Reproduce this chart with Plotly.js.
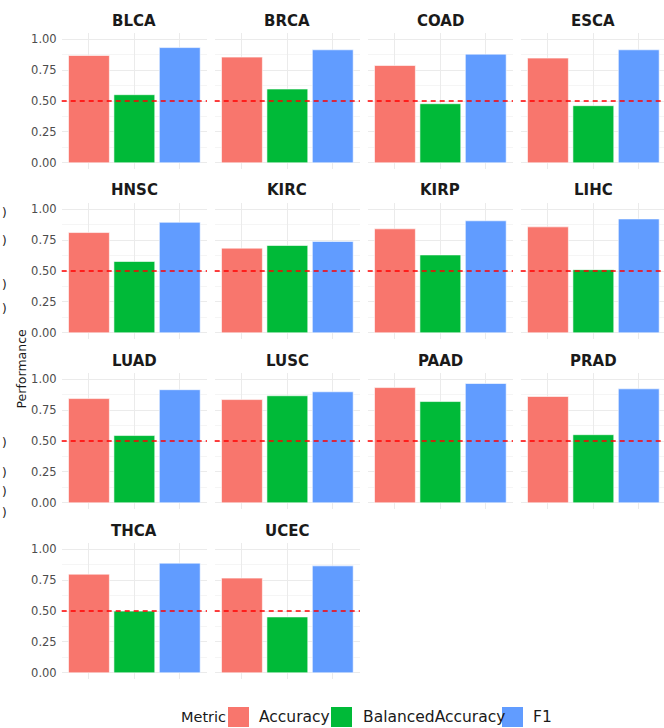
<!DOCTYPE html>
<html>
<head>
<meta charset="utf-8">
<script src="https://cdn.plot.ly/plotly-3.0.1.min.js"></script>
<style>html,body{margin:0;padding:0;background:#fff;}#chart{width:664px;height:728px;}</style>
</head>
<body>
<div id="chart"></div>
<script>
// ---- data ----
const cancers = ['BLCA','BRCA','COAD','ESCA','HNSC','KIRC','KIRP','LIHC','LUAD','LUSC','PAAD','PRAD','THCA','UCEC'];
const metrics = ['Accuracy','BalancedAccuracy','F1'];
const accuracy         = [0.868,0.855,0.787,0.847,0.811,0.685,0.841,0.857,0.843,0.835,0.932,0.860,0.798,0.766];
const balancedAccuracy = [0.551,0.597,0.478,0.462,0.577,0.706,0.630,0.511,0.544,0.866,0.819,0.551,0.499,0.452];
const f1               = [0.932,0.914,0.879,0.914,0.894,0.739,0.906,0.921,0.915,0.898,0.965,0.922,0.887,0.865];
const yTickVals = [0, 0.25, 0.5, 0.75, 1];
const yTickText = ['0.00','0.25','0.50','0.75','1.00'];
const threshold = 0.5;
const metricColors = ['#F8766D','#00BA38','#619CFF'];

// ---- layout constants ----
const W = 664, H = 728;
const FONT = 'DejaVu Sans, Liberation Sans, sans-serif';
const colL = [61.7, 214.7, 367.7, 520.7];
const panelW = 145.3;
const rowT = [33, 203, 373, 543];
const panelH = 136;
const px = x => x / W;
const py = y => 1 - y / H;

const traces = [];
const layout = {
  width: W, height: H,
  margin: {l: 0, r: 0, t: 0, b: 0},
  paper_bgcolor: '#ffffff', plot_bgcolor: '#ffffff',
  showlegend: false,
  font: {family: FONT},
  shapes: [], annotations: []
};

cancers.forEach((name, i) => {
  const r = Math.floor(i / 4), c = i % 4, k = i + 1;
  const sfx = k === 1 ? '' : String(k);
  const x0 = colL[c], x1 = Math.min(x0 + panelW, W);
  const xr = 3.2 * (x1 - x0) / panelW;
  traces.push({
    type: 'bar', x: metrics,
    y: [accuracy[i], balancedAccuracy[i], f1[i]],
    xaxis: 'x' + sfx, yaxis: 'y' + sfx,
    width: 0.9,
    marker: {color: metricColors, line: {color: '#ffffff', width: 0.6}},
    hoverinfo: 'skip', showlegend: false
  });
  layout['xaxis' + sfx] = {
    domain: [px(x0), px(x1)], anchor: 'y' + sfx,
    type: 'category', categoryorder: 'array', categoryarray: metrics,
    range: [-0.6, -0.6 + xr],
    showticklabels: false, ticks: '',
    showgrid: true, gridcolor: '#EBEBEB', gridwidth: 1,
    zeroline: false, showline: false, fixedrange: true
  };
  layout['yaxis' + sfx] = {
    domain: [py(rowT[r] + panelH), py(rowT[r])], anchor: 'x' + sfx,
    range: [-0.05, 1.05],
    tickvals: yTickVals, ticktext: yTickText,
    showticklabels: c === 0, ticks: '', ticklabelstandoff: 4,
    tickfont: {size: 11.5, color: '#4D4D4D', family: FONT},
    showgrid: true, gridcolor: '#EBEBEB', gridwidth: 1,
    minor: {tick0: 0, dtick: 0.125, showgrid: true, gridcolor: '#EFEFEF', gridwidth: 0.6},
    zeroline: false, showline: false, fixedrange: true
  };
  layout.shapes.push({
    type: 'line', xref: 'x' + sfx + ' domain', yref: 'y' + sfx,
    x0: 0, x1: 1, y0: threshold, y1: threshold,
    line: {color: '#FF0000', width: 1.6, dash: '5px,4px'}, layer: 'above'
  });
  layout.annotations.push({
    text: '<b>' + name + '</b>', xref: 'paper', yref: 'paper',
    x: px((x0 + colL[c] + panelW) / 2), y: py(20.5 + 170 * r),
    xanchor: 'center', yanchor: 'middle', showarrow: false,
    font: {size: 15, color: '#1A1A1A', family: FONT}
  });
});

// y axis title
layout.annotations.push({
  text: 'Performance', xref: 'paper', yref: 'paper',
  x: px(20.5), y: py(369), textangle: -90,
  xanchor: 'center', yanchor: 'middle', showarrow: false,
  font: {size: 12.5, color: '#1A1A1A', family: FONT}
});

// text remnants at the left edge
[213, 241, 285, 309, 443, 473, 492, 513].forEach(y => {
  layout.annotations.push({
    text: ')', xref: 'paper', yref: 'paper', x: px(1), y: py(y),
    xanchor: 'left', yanchor: 'middle', showarrow: false, borderpad: 0,
    font: {size: 12, color: '#1A1A1A', family: FONT}
  });
});

// legend (drawn manually)
const legY = 717;
layout.annotations.push({
  text: 'Metric', xref: 'paper', yref: 'paper', x: px(179), y: py(legY),
  xanchor: 'left', yanchor: 'middle', showarrow: false,
  font: {size: 14.5, color: '#1A1A1A', family: FONT}
});
const keyX = [228, 331, 502];
const labX = [257, 361, 531];
metrics.forEach((m, j) => {
  layout.shapes.push({
    type: 'rect', xref: 'paper', yref: 'paper',
    x0: px(keyX[j]), x1: px(keyX[j] + 21), y0: py(legY + 10), y1: py(legY - 10),
    fillcolor: metricColors[j], line: {width: 0}
  });
  layout.annotations.push({
    text: m, xref: 'paper', yref: 'paper', x: px(labX[j]), y: py(legY),
    xanchor: 'left', yanchor: 'middle', showarrow: false,
    font: {size: 15.5, color: '#1A1A1A', family: FONT}
  });
});

Plotly.newPlot('chart', traces, layout, {displayModeBar: false, staticPlot: true});
</script>
</body>
</html>
